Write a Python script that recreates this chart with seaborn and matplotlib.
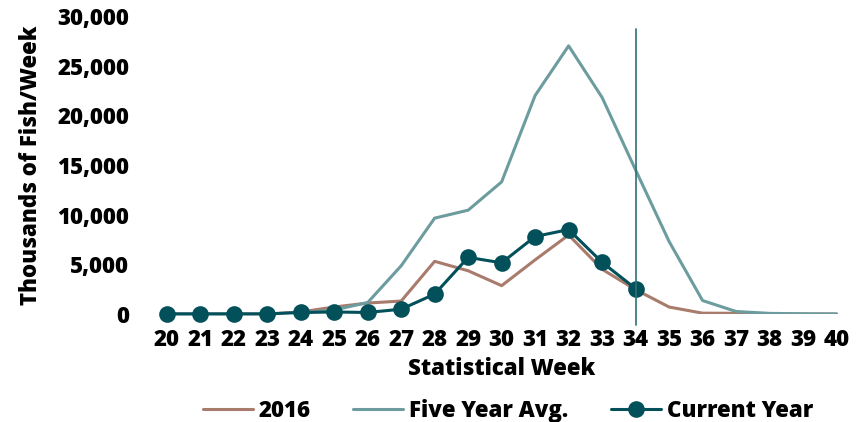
import matplotlib
matplotlib.use("Agg")
import matplotlib.pyplot as plt
import matplotlib.ticker as ticker
import seaborn as sns
import pandas as pd

weeks = list(range(20, 41))
weeks_current = list(range(20, 35))

vals_2016 = [0, 0, 0, 0, 200, 700, 1100, 1300, 5300, 4350, 2850, 5450, 7950,
             4500, 2450, 700, 80, 70, 0, 0, 0]
vals_five_year = [0, 0, 0, 0, 100, 400, 1150, 4850, 9650, 10450, 13300, 22000,
                  27000, 21800, 14500, 7300, 1350, 250, 60, 20, 0]
vals_current = [0, 0, 0, 0, 150, 200, 150, 480, 2000, 5700, 5150, 7800, 8500,
                5200, 2550]

current_week = 34

c_2016 = '#A87B6C'
c_five = '#6C9C9E'
c_current = '#02505A'
c_vline = '#2F7078'

sns.set_style('white')
plt.rcParams['font.family'] = ['Open Sans', 'DejaVu Sans']
plt.rcParams['text.color'] = 'black'
plt.rcParams['xtick.color'] = 'black'
plt.rcParams['ytick.color'] = 'black'
plt.rcParams['axes.labelcolor'] = 'black'

fs = 16
fw = 800

fig = plt.figure(figsize=(8.64, 4.22), dpi=100)
ax = fig.add_axes([0.1736, 0.256, 0.814, 0.706])

sns.lineplot(x=weeks, y=vals_2016, ax=ax, color=c_2016, linewidth=2.2, label='2016')
sns.lineplot(x=weeks, y=vals_five_year, ax=ax, color=c_five, linewidth=2.2, label='Five Year Avg.')
sns.lineplot(x=weeks_current, y=vals_current, ax=ax, color=c_current, linewidth=2.2,
             marker='o', markersize=12, markeredgewidth=0, label='Current Year', clip_on=False)

# current week marker line
ax.axvline(current_week, ymin=-0.037, ymax=0.957, color=c_vline, linewidth=1.2, clip_on=False)

ax.set_xlim(19.5, 40.5)
ax.set_ylim(0, 30000)
ax.set_xticks(weeks)
ax.set_yticks(range(0, 30001, 5000))
ax.yaxis.set_major_formatter(ticker.FuncFormatter(lambda v, _: f'{int(v):,}'))
ax.tick_params(axis='both', labelsize=fs, length=0)
ax.tick_params(axis='y', pad=15)
ax.tick_params(axis='x', pad=10)
for lab in ax.get_xticklabels() + ax.get_yticklabels():
    lab.set_fontweight(fw)

ax.set_xlabel('Statistical Week', fontsize=fs, fontweight=fw, labelpad=4)
ax.set_ylabel('Thousands of Fish/Week', fontsize=fs, fontweight=fw, labelpad=10)
sns.despine(ax=ax, left=True, bottom=True)

ax.legend(loc='center', bbox_to_anchor=(0.509, -0.325), ncol=3, frameon=False,
          handlelength=2.25, columnspacing=1.9, handletextpad=0.27,
          borderaxespad=0, borderpad=0.2,
          prop={'weight': fw, 'size': fs})

fig.savefig('out.png', dpi=100)
